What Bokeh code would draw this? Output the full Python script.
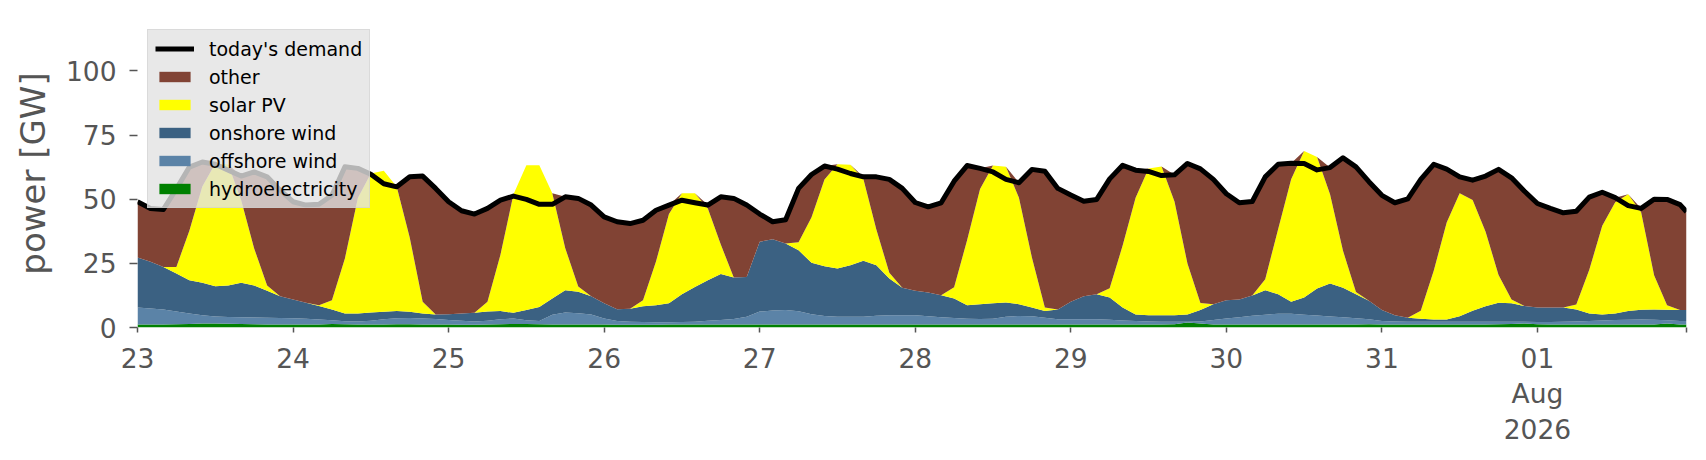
import pandas as pd
from bokeh.plotting import figure
from bokeh.models import ColumnDataSource, Range1d, FixedTicker, Legend, LegendItem
from bokeh.embed import file_html
from bokeh.resources import INLINE

# ---- data (GW), 2-hourly from 23 Jul 2026 00:00, last point 1 Aug 23:00 ----
times = list(pd.date_range("2026-07-23 00:00", periods=120, freq="2h")) + [pd.Timestamp("2026-08-01 23:00")]

demand = [
    49.0, 46.4, 46.0, 54.0, 62.5, 64.5, 63.6, 61.3, 59.0, 60.6, 58.7, 53.5,
    49.0, 47.7, 48.0, 51.5, 62.6, 62.0, 59.7, 56.0, 54.8, 58.7, 59.0, 54.2,
    49.0, 45.5, 44.2, 46.4, 49.6, 51.2, 49.9, 48.0, 48.0, 50.9, 50.3, 47.7,
    43.1, 41.2, 40.5, 41.8, 45.7, 47.7, 49.6, 48.6, 47.7, 50.9, 50.3, 47.7,
    44.2, 41.2, 42.0, 54.2, 59.6, 62.9, 61.7, 60.0, 58.7, 58.7, 57.7, 54.2,
    48.7, 47.0, 48.6, 57.0, 63.1, 62.0, 60.6, 57.7, 56.4, 61.6, 60.9, 54.2,
    51.6, 49.2, 49.9, 57.9, 63.2, 61.3, 60.8, 59.2, 59.5, 63.9, 61.8, 57.7,
    52.1, 48.6, 49.1, 58.7, 63.6, 64.0, 63.9, 61.4, 62.3, 66.1, 62.6, 56.8,
    51.5, 48.6, 50.1, 57.7, 63.6, 61.7, 58.7, 57.4, 59.0, 61.6, 58.3, 53.1,
    48.3, 46.4, 44.7, 45.3, 50.8, 52.7, 50.6, 47.5, 46.4, 50.0, 49.9, 47.9, 45.1,
]

hydro = [
    1.2, 1.2, 1.2, 1.3, 1.4, 1.6, 1.6, 1.5, 1.4, 1.3, 1.2, 1.2,
    1.2, 1.2, 1.2, 1.4, 1.3, 1.2, 1.2, 1.2, 1.3, 1.3, 1.2, 1.2,
    1.2, 1.1, 1.1, 1.2, 1.3, 1.4, 1.4, 1.3, 1.2, 1.2, 1.2, 1.2,
    1.2, 1.1, 1.1, 1.1, 1.1, 1.2, 1.2, 1.2, 1.2, 1.2, 1.2, 1.2,
    1.2, 1.2, 1.2, 1.2, 1.2, 1.2, 1.2, 1.2, 1.2, 1.2, 1.2, 1.2,
    1.2, 1.2, 1.2, 1.2, 1.2, 1.2, 1.2, 1.2, 1.2, 1.2, 1.2, 1.2,
    1.2, 1.2, 1.2, 1.2, 1.2, 1.2, 1.2, 1.2, 1.3, 1.9, 1.6, 1.2,
    1.2, 1.2, 1.2, 1.2, 1.2, 1.2, 1.2, 1.2, 1.2, 1.2, 1.2, 1.3,
    1.2, 1.2, 1.2, 1.2, 1.2, 1.2, 1.2, 1.2, 1.2, 1.3, 1.4, 1.6,
    1.3, 1.2, 1.2, 1.2, 1.2, 1.2, 1.2, 1.2, 1.2, 1.2, 1.6, 1.2, 1.2,
]

offshore = [
    6.6, 6.2, 5.8, 4.9, 4.1, 3.2, 2.7, 2.6, 2.6, 2.6, 2.6, 2.5,
    2.4, 2.2, 1.9, 1.4, 1.1, 1.1, 1.4, 2.0, 2.3, 2.4, 2.3, 2.1,
    1.7, 1.5, 1.2, 1.4, 1.9, 2.1, 1.4, 1.2, 3.8, 4.6, 4.4, 3.9,
    2.3, 1.4, 1.1, 1.0, 0.9, 0.8, 0.9, 1.0, 1.4, 1.7, 2.1, 3.0,
    5.0, 5.4, 5.6, 5.1, 4.0, 3.3, 3.0, 3.0, 3.0, 3.4, 3.6, 3.6,
    3.6, 3.2, 2.8, 2.5, 2.2, 2.1, 2.2, 3.0, 3.3, 3.2, 2.6, 2.0,
    2.0, 2.0, 2.0, 1.8, 1.5, 1.3, 1.1, 1.0, 0.9, 0.3, 0.7, 1.7,
    2.3, 2.8, 3.4, 3.8, 4.2, 4.2, 3.8, 3.5, 3.1, 2.8, 2.4, 1.9,
    1.3, 1.1, 1.0, 1.0, 1.0, 1.0, 1.0, 1.0, 1.0, 0.9, 0.8, 0.6,
    0.8, 0.9, 1.0, 1.1, 1.3, 1.5, 1.7, 1.8, 1.9, 1.8, 1.2, 1.3, 1.3,
]

onshore = [
    19.5, 18.2, 16.6, 14.8, 12.9, 12.6, 11.8, 12.3, 13.4, 12.5, 10.5, 8.5,
    7.3, 6.2, 5.3, 4.2, 3.1, 3.2, 3.2, 2.9, 2.8, 2.4, 2.0, 1.8,
    2.3, 2.9, 3.4, 3.6, 3.2, 2.2, 4.0, 5.5, 6.3, 8.7, 8.3, 7.1,
    5.9, 4.6, 5.1, 6.2, 6.7, 7.4, 10.9, 13.6, 15.8, 17.9, 16.2, 15.5,
    27.2, 27.8, 25.9, 23.8, 20.0, 19.4, 18.8, 20.1, 21.8, 19.7, 14.3, 10.7,
    9.5, 9.2, 8.6, 7.6, 5.3, 5.8, 6.0, 5.5, 4.6, 3.4, 2.6, 3.8,
    6.8, 9.0, 9.8, 8.7, 5.1, 2.6, 2.5, 2.6, 2.6, 2.9, 4.5, 6.2,
    7.1, 6.9, 7.9, 9.5, 7.6, 4.6, 6.7, 10.5, 12.8, 11.5, 9.4, 7.2,
    4.3, 2.5, 1.6, 1.2, 0.9, 0.9, 2.2, 4.3, 6.1, 7.4, 7.2, 6.2,
    5.7, 5.7, 5.6, 4.7, 3.0, 2.4, 2.6, 3.4, 3.8, 4.0, 4.1, 4.3, 4.3,
]

solar = [
    0, 0, 0, 2.6, 19.3, 37.5, 47.8, 47.1, 32.2, 14.4, 2.1, 0,
    0, 0, 0.3, 3.6, 21.4, 45.0, 54.2, 55.0, 48.4, 29.0, 4.5, 0,
    0, 0, 0, 3.8, 21.9, 46.1, 56.4, 55.2, 41.0, 16.4, 2.1, 0,
    0, 0, 0, 2.3, 17.0, 34.8, 39.3, 36.5, 28.0, 11.5, 0, 0,
    0, 0, 0, 3.1, 17.8, 33.8, 40.6, 39.1, 31.9, 13.9, 2.2, 0,
    0, 0, 0, 4.4, 25.3, 44.9, 53.7, 52.9, 41.5, 19.5, 1.4, 0,
    0, 0, 0, 3.6, 24.1, 45.5, 57.1, 57.9, 44.3, 19.8, 2.7, 0,
    0, 0, 0, 4.3, 25.4, 47.8, 57.1, 51.2, 34.8, 14.4, 0.8, 0,
    0, 0, 0, 3.1, 19.0, 37.8, 47.9, 43.2, 29.0, 10.9, 1.5, 0,
    0, 0, 0, 2.0, 17.0, 34.5, 43.3, 45.5, 38.0, 13.4, 1.8, 0, 0,
]

other = [
    21.7, 20.8, 22.4, 30.4, 24.8, 9.6, 0, 0, 9.4, 29.8, 42.3, 41.3,
    38.1, 38.1, 39.3, 40.9, 35.7, 11.5, 0, 0, 0, 23.6, 49.0, 49.1,
    43.8, 40.0, 38.5, 36.4, 21.3, 0, 0, 0, 0, 20.0, 34.3, 35.5,
    33.7, 34.1, 33.2, 31.2, 20.0, 3.5, 0, 0, 1.3, 18.6, 30.8, 28.0,
    10.8, 6.8, 9.3, 21.0, 16.6, 5.2, 0, 0, 0.8, 20.5, 36.4, 38.7,
    34.4, 33.4, 36.0, 41.3, 29.1, 8.0, 0, 0, 5.8, 34.3, 53.1, 47.2,
    41.6, 37.0, 36.9, 42.6, 31.3, 10.7, 0, 0, 10.4, 39.0, 52.3, 48.6,
    41.5, 37.7, 36.6, 39.9, 25.2, 6.2, 0, 0, 10.4, 36.2, 48.8, 46.4,
    44.7, 43.8, 46.3, 51.2, 41.5, 20.8, 6.4, 7.7, 21.7, 41.1, 47.4, 44.7,
    40.5, 38.6, 36.9, 36.3, 28.3, 13.1, 1.8, 0, 1.5, 29.6, 41.2, 41.1, 38.3,
]

tick_days = ["2026-07-23", "2026-07-24", "2026-07-25", "2026-07-26", "2026-07-27",
             "2026-07-28", "2026-07-29", "2026-07-30", "2026-07-31", "2026-08-01",
             "2026-08-01 23:00"]
tick_labels = ["23", "24", "25", "26", "27", "28", "29", "30", "31", "01\nAug\n2026", ""]
y_ticks = [0, 25, 50, 75, 100]

series_names = ["hydro", "offshore", "onshore", "solar", "other"]
series_labels = ["hydroelectricity", "offshore wind", "onshore wind", "solar PV", "other"]
series_colors = ["#008000", "#5b83a7", "#3b6182", "#ffff00", "#814334"]

# ---- figure ----
source = ColumnDataSource(dict(time=times, demand=demand, hydro=hydro, offshore=offshore,
                               onshore=onshore, solar=solar, other=other))

p = figure(width=1690, height=452, x_axis_type="datetime",
           x_range=Range1d(pd.Timestamp("2026-07-23 00:00"), pd.Timestamp("2026-08-01 23:00")),
           y_range=Range1d(0, 120),
           output_backend="svg", toolbar_location=None)
p.min_border_left = 137
p.min_border_right = 4
p.min_border_top = 19
p.min_border_bottom = 125
p.background_fill_color = "white"
p.border_fill_color = "white"
p.outline_line_color = None
p.grid.visible = False

areas = p.varea_stack(stackers=series_names, x="time", color=series_colors, source=source)
dline = p.line("time", "demand", source=source, color="black", line_width=5, line_join="round")

# axes
tick_ms = [float(pd.Timestamp(d).value // 10**6) for d in tick_days]
p.xaxis.ticker = FixedTicker(ticks=tick_ms)
p.xaxis.major_label_overrides = {t: l for t, l in zip(tick_ms, tick_labels)}
p.yaxis.ticker = FixedTicker(ticks=y_ticks)

for ax in (p.xaxis, p.yaxis):
    ax.axis_line_color = None
    ax.major_tick_line_color = "#555555"
    ax.major_tick_line_width = 1.5
    ax.major_tick_in = 0
    ax.minor_tick_line_color = None
    ax.major_label_text_font = "DejaVu Sans"
    ax.major_label_text_font_size = "26.5px"
    ax.major_label_text_color = "#555555"

p.yaxis.major_tick_out = 8
p.yaxis.major_label_standoff = 13
p.xaxis.major_tick_out = 5
p.xaxis.major_label_standoff = 10
p.xaxis.major_label_text_line_height = 1.15

p.yaxis.axis_label = "power [GW]"
p.yaxis.axis_label_text_font = "DejaVu Sans"
p.yaxis.axis_label_text_font_size = "34px"
p.yaxis.axis_label_text_font_style = "normal"
p.yaxis.axis_label_text_color = "#555555"
p.yaxis.axis_label_standoff = 10

# legend (top to bottom order as in the reference)
items = [LegendItem(label="today's demand", renderers=[dline])]
for r, lab in reversed(list(zip(areas, series_labels))):
    items.append(LegendItem(label=lab, renderers=[r]))

legend = Legend(items=items, location="top_left", margin=10, padding=7, spacing=5,
                glyph_width=39, glyph_height=13, label_standoff=15, label_height=23,
                label_text_font="DejaVu Sans", label_text_font_size="19px",
                label_text_color="black",
                background_fill_color="#e2e2e2", background_fill_alpha=0.8,
                border_line_color="#cccccc", border_line_width=1)
p.add_layout(legend)

open("out.html", "w").write(file_html(p, INLINE))
